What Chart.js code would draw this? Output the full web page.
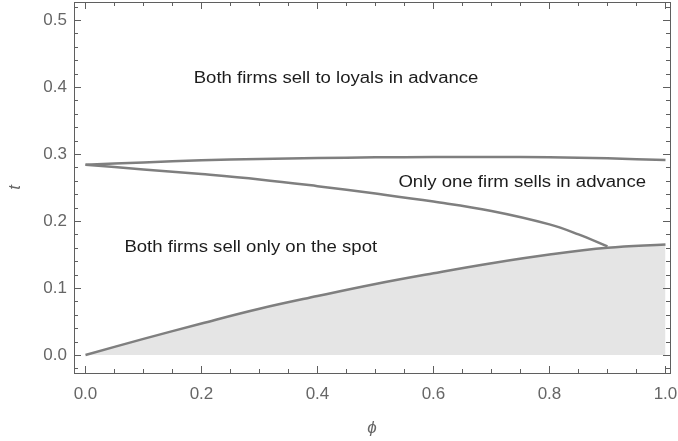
<!DOCTYPE html>
<html>
<head>
<meta charset="utf-8">
<script src="https://cdn.jsdelivr.net/npm/chart.js@4.4.1/dist/chart.umd.min.js"></script>
<style>
  html, body { margin: 0; padding: 0; background: #fff; }
  #wrap { width: 678px; height: 441px; }
</style>
</head>
<body>
<div id="wrap"><canvas id="regions"></canvas></div>
<script>
// boundaries of the regions, t as a function of phi
const phi = [0, 0.1, 0.2, 0.3, 0.4, 0.5, 0.6, 0.7, 0.8, 0.9, 1.0];
const tLoyal = [0.284, 0.2875, 0.2905, 0.2925, 0.294, 0.295, 0.2955, 0.2955, 0.295, 0.2935, 0.291];
const tSpot = [0, 0.024, 0.047, 0.069, 0.088, 0.106, 0.122, 0.137, 0.150, 0.160, 0.165];
const phiOneFirm = [0, 0.1, 0.2, 0.3, 0.4, 0.5, 0.6, 0.7, 0.8, 0.85, 0.9];
const tOneFirm = [0.284, 0.277, 0.27, 0.262, 0.252, 0.241, 0.229, 0.215, 0.195, 0.18, 0.162];

const xTicks = [0, 0.2, 0.4, 0.6, 0.8, 1.0];
const yTicks = [0, 0.1, 0.2, 0.3, 0.4, 0.5];
const regionNames = ['Both firms sell to loyals in advance', 'Only one firm sells in advance', 'Both firms sell only on the spot'];

const lineGray = '#7f7f7f';
const frameGray = '#5f5f5f';

function pts(xs, ys) {
  return xs.map((x, i) => ({x: x, y: ys[i]}));
}

// frame with inward ticks on all four sides + region captions
const framePlugin = {
  id: 'frame',
  afterDatasetsDraw(chart) {
    const {ctx, chartArea: a, scales: {x, y}} = chart;
    ctx.save();
    ctx.strokeStyle = frameGray;
    ctx.lineWidth = 1;
    ctx.strokeRect(Math.round(a.left) + 0.5, Math.round(a.top) + 0.5,
      Math.round(a.right - a.left), Math.round(a.bottom - a.top));

    ctx.beginPath();
    for (let k = 0; k <= 20; k++) {
      const v = k * 0.05;
      const len = (k % 4 === 0) ? 7 : 4;
      const px = Math.round(x.getPixelForValue(v)) + 0.5;
      ctx.moveTo(px, a.bottom); ctx.lineTo(px, a.bottom - len);
      ctx.moveTo(px, a.top); ctx.lineTo(px, a.top + len);
    }
    for (let k = -1; k <= 26; k++) {
      const v = k * 0.02;
      if (v < y.min || v > y.max) continue;
      const len = (k % 5 === 0) ? 7 : 4;
      const py = Math.round(y.getPixelForValue(v)) + 0.5;
      ctx.moveTo(a.left, py); ctx.lineTo(a.left + len, py);
      ctx.moveTo(a.right, py); ctx.lineTo(a.right - len, py);
    }
    ctx.stroke();

    // captions, slightly widened like the original export
    const spots = [[0.432, 0.413], [0.753, 0.257], [0.285, 0.160]];
    ctx.fillStyle = '#1c1c1c';
    ctx.font = '16px "Liberation Sans", Arial, sans-serif';
    ctx.textAlign = 'center';
    ctx.textBaseline = 'middle';
    regionNames.forEach((txt, i) => {
      ctx.save();
      ctx.translate(x.getPixelForValue(spots[i][0]), y.getPixelForValue(spots[i][1]));
      ctx.scale(1.16, 1);
      ctx.fillText(txt, 0, 0);
      ctx.restore();
    });
    ctx.restore();
  }
};

const tickFont = {family: '"Liberation Sans", Arial, sans-serif', size: 17};

new Chart(document.getElementById('regions'), {
  type: 'line',
  data: {
    datasets: [{
      label: 'loyals',
      data: pts(phi, tLoyal),
      borderColor: lineGray,
      borderWidth: 2.5,
      pointRadius: 0,
      fill: false,
      tension: 0.4
    }, {
      label: 'one firm',
      data: pts(phiOneFirm, tOneFirm),
      borderColor: lineGray,
      borderWidth: 2.5,
      pointRadius: 0,
      fill: false,
      tension: 0.4
    }, {
      label: 'spot',
      data: pts(phi, tSpot),
      borderColor: lineGray,
      borderWidth: 2.5,
      pointRadius: 0,
      fill: {value: 0},
      backgroundColor: '#e5e5e5',
      tension: 0.4
    }]
  },
  options: {
    responsive: true,
    maintainAspectRatio: false,
    animation: false,
    layout: {padding: {top: 2, right: 8, left: 0, bottom: 0}},
    plugins: {
      legend: {display: false},
      tooltip: {enabled: false}
    },
    scales: {
      x: {
        type: 'linear',
        min: -0.0198,
        max: 1.0078,
        grid: {display: false, drawTicks: false},
        border: {display: false},
        ticks: {
          font: tickFont,
          color: '#666',
          padding: 11,
          maxRotation: 0,
          callback: v => v.toFixed(1)
        },
        afterBuildTicks: s => { s.ticks = xTicks.map(v => ({value: v})); },
        afterFit: s => { s.height = 68; s.paddingLeft = 0; s.paddingRight = 0; },
        title: {
          display: true,
          text: 'ϕ',
          color: '#666',
          font: {family: '"Liberation Sans", Arial, sans-serif', size: 17, style: 'italic'},
          padding: {top: 0, bottom: 3}
        }
      },
      y: {
        type: 'linear',
        min: -0.0269,
        max: 0.5269,
        grid: {display: false, drawTicks: false},
        border: {display: false},
        ticks: {
          font: tickFont,
          color: '#666',
          padding: 7,
          callback: v => v.toFixed(1)
        },
        afterBuildTicks: s => { s.ticks = yTicks.map(v => ({value: v})); },
        afterFit: s => { s.width = 74; s.paddingTop = 0; s.paddingBottom = 0; },
        title: {
          display: true,
          text: 't',
          color: '#666',
          font: {family: '"Liberation Sans", Arial, sans-serif', size: 17, style: 'italic'},
          padding: {top: 5, bottom: 0}
        }
      }
    }
  },
  plugins: [framePlugin]
});
</script>
</body>
</html>
